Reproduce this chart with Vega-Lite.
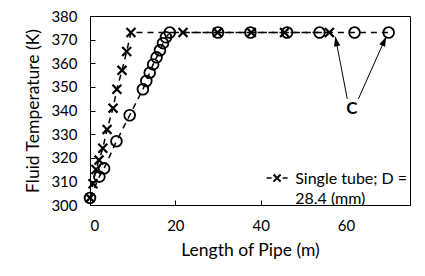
{
  "$schema": "https://vega.github.io/schema/vega-lite/v6.json",
  "width": 320,
  "height": 189,
  "autosize": {"type": "none"},
  "padding": {"left": 90, "top": 16, "right": 15, "bottom": 71},
  "background": "white",
  "config": {
    "view": {"stroke": "black", "strokeWidth": 1},
    "font": "Lato",
    "axis": {
      "grid": false,
      "domainColor": "black",
      "tickColor": "black",
      "tickSize": -5,
      "labelColor": "black",
      "titleColor": "black",
      "labelFont": "Lato",
      "titleFont": "Lato",
      "labelFontSize": 15,
      "titleFontSize": 17.5,
      "titleFontWeight": "normal"
    }
  },
  "datasets": {
    "single": [
      {"length": 0, "temp": 303},
      {"length": 0.7, "temp": 309},
      {"length": 1.4, "temp": 315},
      {"length": 2.1, "temp": 319},
      {"length": 3.0, "temp": 324},
      {"length": 4.0, "temp": 332},
      {"length": 5.4, "temp": 341},
      {"length": 6.3, "temp": 349},
      {"length": 7.5, "temp": 357},
      {"length": 8.6, "temp": 365},
      {"length": 9.6, "temp": 373},
      {"length": 21.8, "temp": 373},
      {"length": 29.9, "temp": 373},
      {"length": 37.8, "temp": 373},
      {"length": 45.6, "temp": 373},
      {"length": 56.1, "temp": 373}
    ],
    "other": [
      {"length": 0, "temp": 303},
      {"length": 2.2, "temp": 312},
      {"length": 3.3, "temp": 315.5},
      {"length": 6.2, "temp": 327},
      {"length": 9.3, "temp": 338},
      {"length": 12.4, "temp": 349},
      {"length": 13.2, "temp": 352.5},
      {"length": 14.0, "temp": 356},
      {"length": 14.8, "temp": 359.5},
      {"length": 15.6, "temp": 362.5},
      {"length": 16.4, "temp": 365.5},
      {"length": 17.1, "temp": 368.5},
      {"length": 17.8, "temp": 371},
      {"length": 18.7, "temp": 373},
      {"length": 30, "temp": 373},
      {"length": 37.6, "temp": 373},
      {"length": 46.2, "temp": 373},
      {"length": 53.8, "temp": 373},
      {"length": 62, "temp": 373},
      {"length": 70, "temp": 373}
    ],
    "arrows": [
      {"id": "a", "length": 60.3, "temp": 344.9, "length2": 57.5, "temp2": 371.2},
      {"id": "b", "length": 62.9, "temp": 344.9, "length2": 69.4, "temp2": 371.2}
    ],
    "label": [{"length": 61.4, "temp": 340.7, "text": "C"}],
    "legendLine": [{"length": 41.4, "length2": 46.3, "temp": 311.4}],
    "legendCross": [{"length": 43.85, "temp": 311.4}],
    "legendText": [{"length": 48.1, "temp": 311.2, "text": "Single tube; D =\n28.4 (mm)"}]
  },
  "encoding": {
    "x": {
      "field": "length",
      "type": "quantitative",
      "scale": {"domain": [0, 75], "nice": false},
      "axis": {"values": [0, 20, 40, 60], "title": "Length of Pipe (m)", "labelPadding": 18, "titlePadding": 8}
    },
    "y": {
      "field": "temp",
      "type": "quantitative",
      "scale": {"domain": [300, 380], "nice": false},
      "axis": {"values": [300, 310, 320, 330, 340, 350, 360, 370, 380], "title": "Fluid Temperature (K)", "labelPadding": 18, "titlePadding": 8}
    }
  },
  "layer": [
    {
      "data": {"name": "other"},
      "mark": {"type": "line", "color": "black", "strokeWidth": 1.5, "strokeDash": [6, 5]}
    },
    {
      "data": {"name": "other"},
      "mark": {"type": "point", "shape": "circle", "size": 115, "filled": false, "color": "black", "strokeWidth": 1.8, "opacity": 1}
    },
    {
      "data": {"name": "single"},
      "mark": {"type": "line", "color": "black", "strokeWidth": 1.5, "strokeDash": [6, 5]}
    },
    {
      "data": {"name": "single"},
      "mark": {"type": "point", "shape": "M-1,-1L1,1M-1,1L1,-1", "size": 80, "filled": false, "color": "black", "strokeWidth": 2.2, "opacity": 1}
    },
    {
      "data": {"name": "arrows"},
      "mark": {"type": "rule", "color": "black", "strokeWidth": 1},
      "encoding": {"x2": {"field": "length2"}, "y2": {"field": "temp2"}}
    },
    {
      "data": {"name": "arrows"},
      "transform": [{"filter": "datum.id == 'a'"}],
      "mark": {"type": "point", "shape": "M0,0L-0.8,2.4L0.8,2.4Z", "size": 64, "filled": true, "color": "black", "opacity": 1, "strokeWidth": 0, "angle": 349},
      "encoding": {"x": {"field": "length2", "type": "quantitative"}, "y": {"field": "temp2", "type": "quantitative"}}
    },
    {
      "data": {"name": "arrows"},
      "transform": [{"filter": "datum.id == 'b'"}],
      "mark": {"type": "point", "shape": "M0,0L-0.8,2.4L0.8,2.4Z", "size": 64, "filled": true, "color": "black", "opacity": 1, "strokeWidth": 0, "angle": 24},
      "encoding": {"x": {"field": "length2", "type": "quantitative"}, "y": {"field": "temp2", "type": "quantitative"}}
    },
    {
      "data": {"name": "label"},
      "mark": {"type": "text", "fontWeight": "bold", "fontSize": 17, "color": "black", "font": "Lato"},
      "encoding": {"text": {"field": "text"}}
    },
    {
      "data": {"name": "legendLine"},
      "mark": {"type": "rule", "color": "black", "strokeWidth": 1.5, "strokeDash": [5, 11]},
      "encoding": {"x2": {"field": "length2"}}
    },
    {
      "data": {"name": "legendCross"},
      "mark": {"type": "point", "shape": "M-1,-1L1,1M-1,1L1,-1", "size": 50, "filled": false, "color": "black", "strokeWidth": 2, "opacity": 1}
    },
    {
      "data": {"name": "legendText"},
      "mark": {"type": "text", "align": "left", "baseline": "middle", "fontSize": 16, "lineBreak": "\n", "lineHeight": 20, "color": "black", "font": "Lato"},
      "encoding": {"text": {"field": "text"}}
    }
  ]
}
